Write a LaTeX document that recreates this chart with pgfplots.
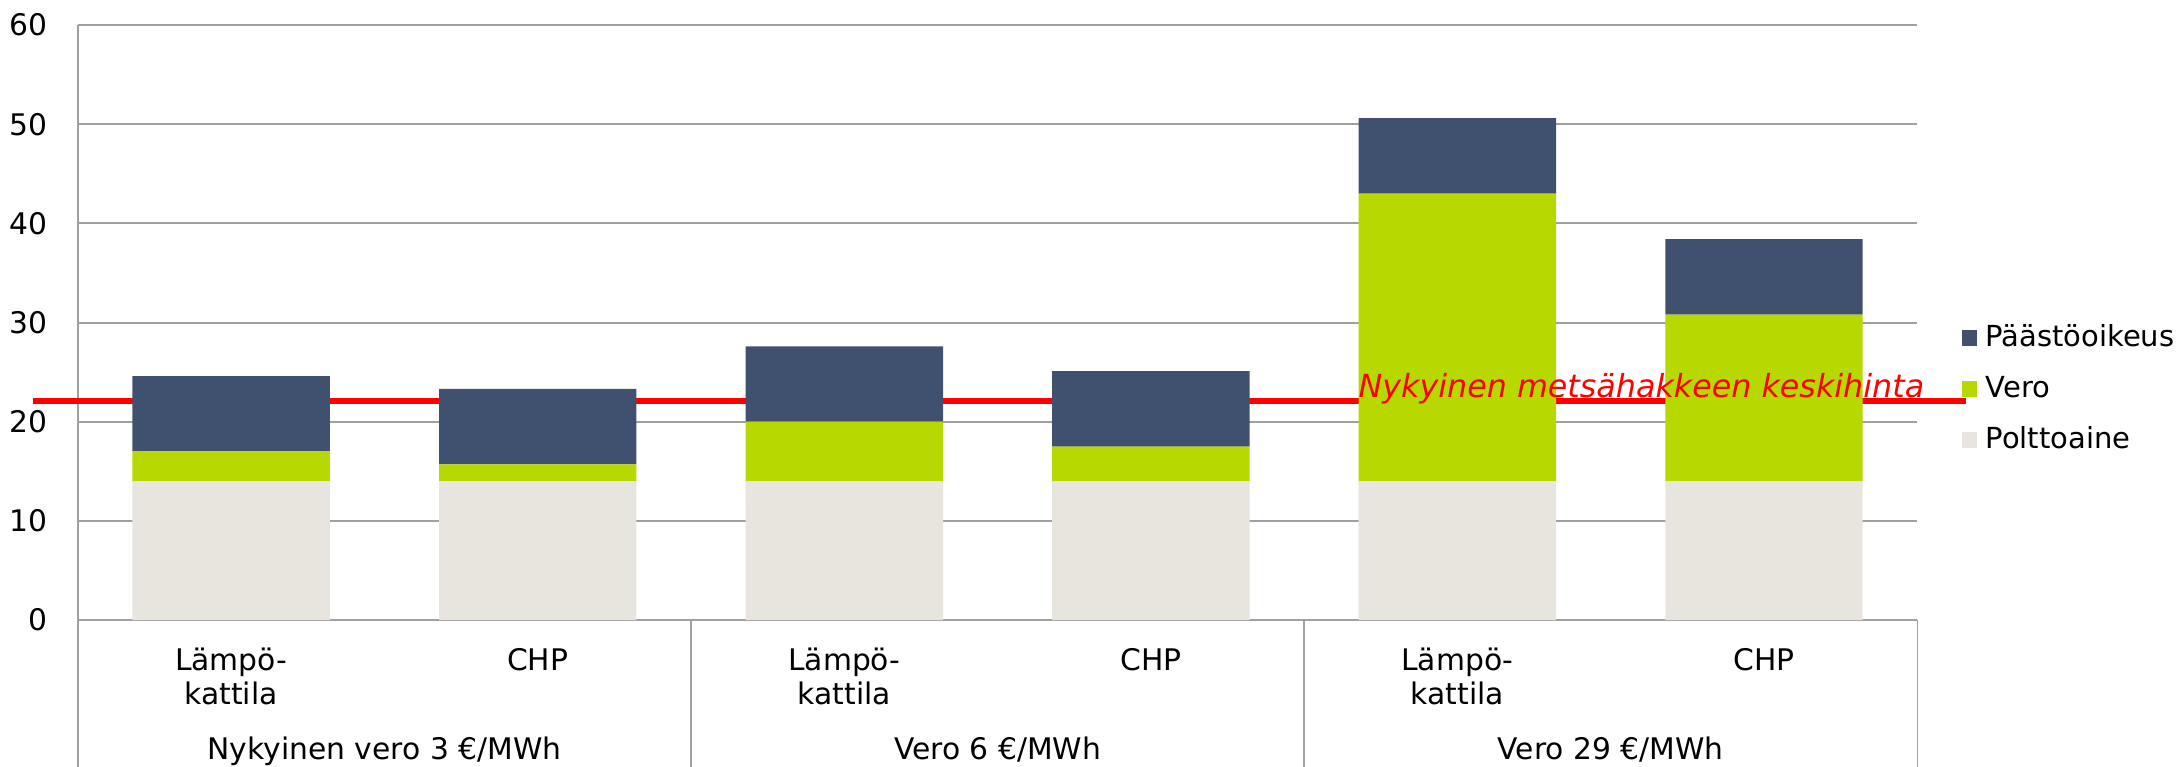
\documentclass[border=0pt]{standalone}
\usepackage{fontspec}
\setmainfont{DejaVu Sans}
\usepackage{pgfplots}
\pgfplotsset{compat=1.18}

\definecolor{paasto}{HTML}{405170}
\definecolor{vero}{HTML}{B7D800}
\definecolor{poltto}{HTML}{E8E5DE}
\definecolor{gridc}{HTML}{A0A0A0}

\begin{document}
\begin{tikzpicture}
\begin{axis}[
  name=ax,
  scale only axis,
  width=735.76pt, height=238.04pt,
  xmin=-0.5, xmax=5.5, ymin=0, ymax=60,
  ybar stacked, bar width=0.644,
  axis lines*=left,
  axis line style={gridc, line width=0.8pt},
  ymajorgrids, grid style={gridc, line width=0.8pt},
  major tick length=0pt,
  ytick={0,10,...,60},
  xtick={0,...,5},
  xticklabels={{Lämpö-\\kattila},CHP,{Lämpö-\\kattila},CHP,{Lämpö-\\kattila},CHP},
  /pgf/number format/assume math mode=true,
  tick label style={font=\fontsize{11.9}{13.4}\selectfont, inner sep=0pt},
  yticklabel style={anchor=east, xshift=-12.1pt},
  xticklabel style={align=center, anchor=north, yshift=-11.1pt},
  clip=false,
  reverse legend,
  legend style={at={(1,0.3887)}, anchor=west, xshift=17.5pt, draw=none, fill=none,
    inner sep=0pt, row sep=10.2pt, column sep=3.3pt,
    font=\fontsize{11.6}{13.8}\selectfont,
    nodes={inner sep=0pt, text height=8.7pt, text depth=1.5pt, anchor=base west}},
  legend cell align=left,
  legend image code/.code={\fill[#1, draw=none] (0pt,0.45pt) rectangle (6.3pt,6.75pt);},
]
\addplot[fill=poltto, draw=none] coordinates {(0,14) (1,14) (2,14) (3,14) (4,14) (5,14)};
\addplot[fill=vero, draw=none] coordinates {(0,3) (1,1.7) (2,6) (3,3.5) (4,29) (5,16.8)};
\addplot[fill=paasto, draw=none] coordinates {(0,7.6) (1,7.6) (2,7.6) (3,7.6) (4,7.6) (5,7.6)};
\legend{Polttoaine, Vero, Päästöoikeus}
\addplot[sharp plot, stack plots=false, draw=red, line width=2.2pt, forget plot]
  coordinates {(-0.645,22.1) (5.66,22.1)};
\coordinate (redtxt) at (axis cs:3.676,22.42);
\pgfplotsinvokeforeach{-0.5,1.5,3.5,5.5}{
  \draw[gridc, line width=0.6pt] (axis cs:#1,0) -- (axis cs:#1,-16);
}
\node[anchor=base, inner sep=0pt, font=\fontsize{11.9}{13.4}\selectfont, yshift=-55.96pt]
  at (axis cs:0.5,0) {Nykyinen vero 3 €/MWh};
\node[anchor=base, inner sep=0pt, font=\fontsize{11.9}{13.4}\selectfont, yshift=-55.96pt]
  at (axis cs:2.5,0) {Vero 6 €/MWh};
\node[anchor=base, inner sep=0pt, font=\fontsize{11.9}{13.4}\selectfont, yshift=-55.96pt]
  at (axis cs:4.5,0) {Vero 29 €/MWh};
\end{axis}
\node[anchor=base west, inner sep=0pt, text=red, font=\fontsize{12.7}{15}\selectfont\itshape]
  at (redtxt) {Nykyinen metsähakkeen keskihinta};
\pgfresetboundingbox
\useasboundingbox ([xshift=-31.16pt,yshift=-58.76pt]ax.south west)
  rectangle ([xshift=105.08pt,yshift=10pt]ax.north east);
\end{tikzpicture}
\end{document}
